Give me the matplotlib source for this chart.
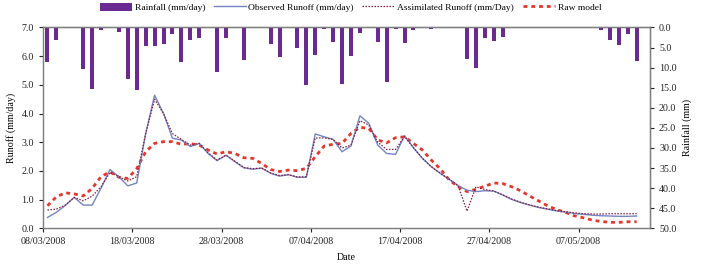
import numpy as np
import matplotlib
matplotlib.use("Agg")
import matplotlib.pyplot as plt
from matplotlib.patches import Patch
from matplotlib.lines import Line2D

plt.rcParams['font.family'] = ['Liberation Serif', 'DejaVu Serif']
plt.rcParams['font.size'] = 7.2

# daily data starting 08/03/2008
rainfall = [8.5, 3.2, 0, 0, 10.4, 15.4, 0.7, 0, 1.2, 12.9, 15.5, 4.5, 4.5, 4.1, 1.7, 8.7,
            3.1, 2.7, 0, 11.0, 2.5, 0, 8.1, 0, 0.2, 4.1, 7.3, 0, 5.2, 14.4, 6.9, 0.4,
            3.6, 14.0, 7.0, 1.5, 0, 3.5, 13.5, 0.4, 3.9, 0.7, 0, 0.5, 0.2, 0, 0, 7.9,
            10.0, 2.7, 3.3, 2.4, 0, 0, 0, 0, 0, 0, 0, 0, 0, 0, 0.7, 3.1, 4.3, 1.6, 8.3]

observed = [0.38, 0.56, 0.80, 1.08, 0.81, 0.81, 1.40, 2.05, 1.80, 1.48, 1.58, 3.30, 4.64,
            4.00, 3.14, 3.08, 2.85, 2.96, 2.61, 2.36, 2.55, 2.32, 2.11, 2.06, 2.10, 1.92,
            1.82, 1.87, 1.78, 1.78, 3.29, 3.19, 3.10, 2.67, 2.87, 3.92, 3.66, 2.90, 2.61,
            2.58, 3.23, 2.81, 2.44, 2.15, 1.92, 1.71, 1.49, 1.33, 1.28, 1.31, 1.30, 1.16,
            1.01, 0.90, 0.81, 0.73, 0.67, 0.61, 0.57, 0.52, 0.49, 0.46, 0.44, 0.43, 0.42,
            0.42, 0.43]

assimilated = [0.64, 0.67, 0.81, 1.08, 0.96, 1.12, 1.45, 1.95, 1.80, 1.65, 1.80, 3.30, 4.50,
               4.00, 3.30, 3.10, 2.90, 2.96, 2.63, 2.38, 2.55, 2.34, 2.12, 2.08, 2.10, 1.93,
               1.84, 1.87, 1.79, 1.80, 3.15, 3.15, 3.10, 2.80, 2.90, 3.75, 3.60, 3.00, 2.75,
               2.75, 3.20, 2.81, 2.44, 2.15, 1.92, 1.71, 1.49, 0.60, 1.45, 1.35, 1.30, 1.17,
               1.02, 0.91, 0.82, 0.74, 0.68, 0.62, 0.58, 0.54, 0.51, 0.50, 0.50, 0.51, 0.51,
               0.51, 0.51]

raw_model = [0.79, 1.10, 1.24, 1.20, 1.13, 1.39, 1.80, 1.97, 1.78, 1.74, 2.08, 2.67, 2.96,
             3.02, 3.02, 2.93, 2.95, 2.90, 2.73, 2.59, 2.67, 2.61, 2.46, 2.44, 2.26, 2.05,
             1.98, 2.03, 2.01, 2.09, 2.50, 2.87, 2.93, 2.96, 3.31, 3.52, 3.48, 3.08, 2.98,
             3.16, 3.19, 2.96, 2.73, 2.38, 2.07, 1.69, 1.45, 1.28, 1.36, 1.47, 1.58, 1.56,
             1.45, 1.31, 1.13, 0.96, 0.79, 0.66, 0.56, 0.44, 0.37, 0.29, 0.24, 0.21, 0.21,
             0.23, 0.23]

date_labels = ['08/03/2008', '18/03/2008', '28/03/2008', '07/04/2008',
               '17/04/2008', '27/04/2008', '07/05/2008']
left_ticks = [0.0, 1.0, 2.0, 3.0, 4.0, 5.0, 6.0, 7.0]
right_ticks = [0, 5, 10, 15, 20, 25, 30, 35, 40, 45, 50]

n = len(observed)
x = np.arange(n) + 0.5

fig = plt.figure(figsize=(7.05, 2.64), dpi=100)
ax = fig.add_axes([0.061, 0.135, 0.861, 0.761])
ax2 = ax.twinx()

purple = '#6a2a92'
obs_c = '#7384c2'
ass_c = '#8a1c3c'
raw_c = '#e8352b'

ax2.bar(x, rainfall, width=0.45, color=purple, zorder=2)
ax2.set_ylim(50, 0)
ax2.set_yticks(right_ticks)
ax2.set_yticklabels([f'{v:.1f}' for v in right_ticks])
ax2.set_ylabel('Rainfall (mm)')

ax.plot(x, raw_model, color=raw_c, lw=2.0, dashes=(1.4, 1.4), zorder=3)
ax.plot(x, observed, color=obs_c, lw=1.0, zorder=4)
ax.plot(x, assimilated, color=ass_c, lw=0.9, dashes=(1.2, 1.2), zorder=5)
ax.set_zorder(ax2.get_zorder() + 1)
ax.patch.set_visible(False)

ax.set_xlim(0, 68)
ax.set_ylim(0, 7)
ax.set_yticks(left_ticks)
ax.set_yticklabels([f'{v:.1f}' for v in left_ticks])
ax.set_xticks(np.arange(len(date_labels)) * 10)
ax.set_xticklabels(date_labels)
ax.set_ylabel('Runoff (mm/day)')
ax.set_xlabel('Date', labelpad=5)

for a in (ax, ax2):
    a.tick_params(length=3, width=0.8, colors='#222222', labelcolor='#222222')
    for s in a.spines.values():
        s.set_color('#808080')
        s.set_linewidth(0.9)
ax2.spines['top'].set_color('#333333')
ax2.spines['right'].set_color('#444444')

handles = [Patch(facecolor=purple, edgecolor='none'),
           Line2D([], [], color=obs_c, lw=1.0),
           Line2D([], [], color=ass_c, lw=0.9, dashes=(1.2, 1.2)),
           Line2D([], [], color=raw_c, lw=2.0, dashes=(1.4, 1.4))]
labels = ['Rainfall (mm/day)', 'Observed Runoff (mm/day)',
          'Assimilated Runoff (mm/Day)', 'Raw model']
fig.legend(handles, labels, loc='center', bbox_to_anchor=(0.497, 0.972), ncol=4,
           frameon=False, handlelength=3.4, handleheight=0.9, columnspacing=0.9,
           handletextpad=0.3, borderaxespad=0, fontsize=6.8)

fig.savefig('out.png', dpi=100)
